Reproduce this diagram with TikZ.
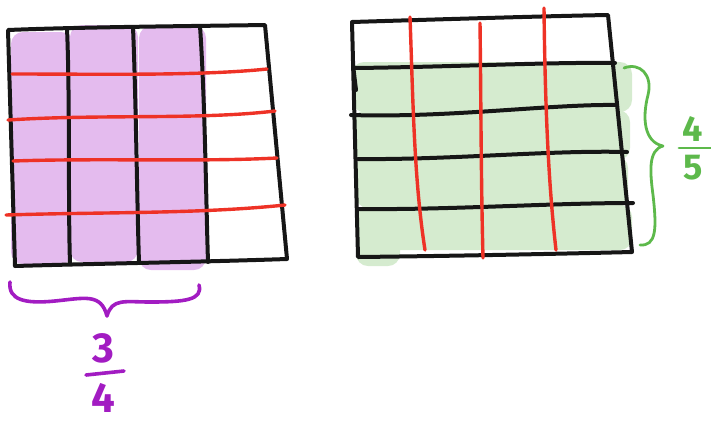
\documentclass[tikz,border=0pt]{standalone}
\usepackage{fontspec}
\setmainfont{Fira Sans}
\definecolor{pfill}{HTML}{E4BBEE}
\definecolor{gfill}{HTML}{D5EBCF}
\definecolor{pen}{HTML}{161616}
\definecolor{redpen}{HTML}{EE3226}
\definecolor{purp}{HTML}{A21CC2}
\definecolor{grn}{HTML}{5DB94B}
\begin{document}
\begin{tikzpicture}[x=1pt,y=-1pt,
  blk/.style={draw=pen,line width=4pt,line cap=round,line join=round},
  red/.style={draw=redpen,line width=3.4pt,line cap=round},
  pfl/.style={fill=pfill,rounded corners=12pt},
  gfl/.style={fill=gfill,rounded corners=12pt},
  pbrace/.style={draw=purp,line width=3.6pt,line cap=round,line join=round},
  gbrace/.style={draw=grn,line width=2.8pt,line cap=round,line join=round},
  pnum/.style={text=purp,font=\fontsize{42}{42}\selectfont\bfseries,inner sep=0pt},
  gnum/.style={text=grn,font=\fontsize{36}{36}\selectfont\bfseries,inner sep=0pt}]
\useasboundingbox (0,0) rectangle (711,424);
% ---------- left grid ----------
\fill[pfl] (11,32) rectangle (73,264);
\fill[pfl] (70,25) rectangle (138,262);
\fill[pfl] (139,26) rectangle (206,270);
\draw[blk] (8,30) .. controls (80,27) and (200,26) .. (265,25) -- (287,259) .. controls (200,262) and (80,264) .. (15,266) -- cycle;
\draw[blk] (67,28) .. controls (70,100) and (68,200) .. (70,264);
\draw[blk] (133,27) .. controls (136,100) and (137,200) .. (139,263);
\draw[blk] (200,26) .. controls (205,100) and (206,200) .. (208,262);
\draw[red] (12,74) .. controls (100,74) and (200,76) .. (267,69);
\draw[red] (8,120) .. controls (100,114) and (200,120) .. (275,111);
\draw[red] (13,161) .. controls (100,158) and (200,162) .. (277,158);
\draw[red] (6,215) .. controls (100,212) and (200,214) .. (285,205);
% ---------- right grid ----------
\fill[gfl] (352,62) rectangle (632,112);
\fill[gfl] (354,110) rectangle (630,160);
\fill[gfl] (356,156) rectangle (628,208);
\fill[gfl] (356,205) rectangle (632,250);
\fill[gfl] (356,230) rectangle (400,266);
\draw[blk] (352,22) .. controls (450,19) and (550,16) .. (608,15) -- (632,252) .. controls (550,254) and (450,256) .. (358,257) -- cycle;
\draw[blk] (354,68) .. controls (450,67) and (550,62) .. (615,63);
\draw[blk] (351,115) .. controls (450,118) and (550,104) .. (617,105);
\draw[blk] (358,159) .. controls (450,160) and (550,150) .. (627,152);
\draw[blk] (358,209) .. controls (450,210) and (550,203) .. (633,203);
\draw[blk] (353,65) -- (356,90);
\draw[red] (410,17) .. controls (413,100) and (414,180) .. (425,250);
\draw[red] (480,23) .. controls (481,100) and (481,180) .. (483,258);
\draw[red] (544,8) .. controls (545,100) and (548,180) .. (556,250);
% ---------- braces ----------
\draw[pbrace] (10,282) .. controls (8,300) and (25,304) .. (55,301) .. controls (85,298) and (101,293) .. (107,316) .. controls (112,298) and (125,302) .. (150,302) .. controls (185,302) and (203,300) .. (199,285);
\draw[gbrace] (624,68) .. controls (640,62) and (653,75) .. (648,95) .. controls (642,118) and (644,142) .. (663,146) .. controls (648,150) and (650,172) .. (653,195) .. controls (657,230) and (656,246) .. (640,245);
% ---------- fractions ----------
\node[pnum] (n3) at (103,348) {3};
\node[pnum] (n4) at (103,398) {4};
\coordinate (pb1) at (86,375);
\coordinate (pb2) at (124,371);
\draw[pbrace] (pb1) -- (pb2);
\node[gnum] (g4) at (693,129) {4};
\node[gnum] (g5) at (693,168) {5};
\coordinate (gb1) at (679,148);
\coordinate (gb2) at (711,148);
\draw[gbrace] (gb1) -- (gb2);
\end{tikzpicture}
\end{document}
